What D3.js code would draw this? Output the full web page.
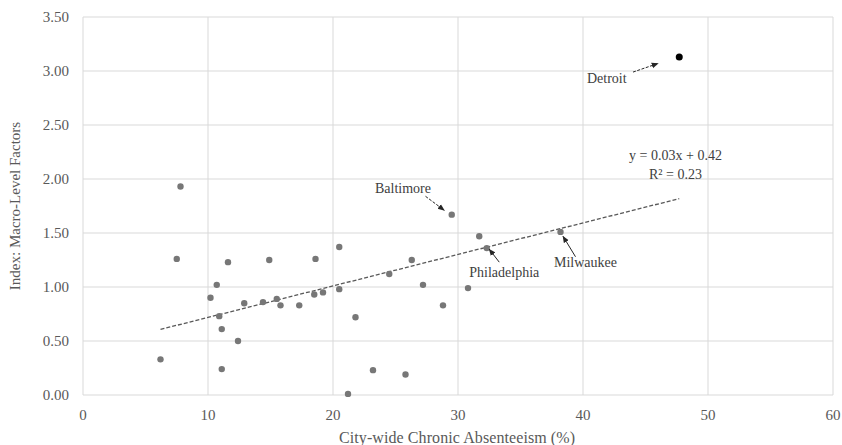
<!DOCTYPE html>
<html>
<head>
<meta charset="utf-8">
<script src="https://cdn.jsdelivr.net/npm/d3@7"></script>
<style>
  body { margin: 0; background: #fff; }
  text { font-family: "Liberation Serif", "Times New Roman", serif; }
</style>
</head>
<body>
<script>
// data
var absenteeism = [6.2, 7.5, 7.8, 10.2, 10.7, 10.9, 11.1, 11.1, 11.6, 12.4, 12.9, 14.4,
  14.9, 15.5, 15.8, 17.3, 18.5, 18.6, 19.2, 20.5, 20.5, 21.2, 21.8, 23.2, 24.5, 25.8,
  26.3, 27.2, 28.8, 29.5, 30.8, 31.7, 32.3, 38.2, 47.7];
var macroIndex = [0.33, 1.26, 1.93, 0.90, 1.02, 0.73, 0.61, 0.24, 1.23, 0.50, 0.85, 0.86,
  1.25, 0.89, 0.83, 0.83, 0.93, 1.26, 0.95, 1.37, 0.98, 0.01, 0.72, 0.23, 1.12, 0.19,
  1.25, 1.02, 0.83, 1.67, 0.99, 1.47, 1.36, 1.51, 3.13];
var xTicks = [0, 10, 20, 30, 40, 50, 60];
var yTicks = [0, 0.5, 1, 1.5, 2, 2.5, 3, 3.5];

// labelled cities: where the label sits and where its arrow runs (data units)
var cities = ["Baltimore", "Philadelphia", "Milwaukee", "Detroit"];
var labelX = [25.6, 33.7, 40.2, 41.9];
var labelY = [1.92, 1.14, 1.23, 2.93];
var arrowFrom = [[27.4, 1.84], [33.3, 1.23], [39.4, 1.28], [44.0, 2.99]];
var arrowTo = [[28.9, 1.71], [32.5, 1.35], [38.4, 1.47], [46.0, 3.07]];

var data = absenteeism.map(function(d, i) { return {x: d, y: macroIndex[i]}; });

var margin = {top: 17, right: 9, bottom: 50, left: 83},
    width = 842 - margin.left - margin.right,
    height = 445 - margin.top - margin.bottom;

var x = d3.scaleLinear().domain([0, 60]).range([0, width]);
var y = d3.scaleLinear().domain([0, 3.5]).range([height, 0]);

var svg = d3.select("body").append("svg")
    .attr("width", 842)
    .attr("height", 445);

svg.append("defs").append("marker")
    .attr("id", "head")
    .attr("viewBox", "0 0 10 10")
    .attr("refX", 9).attr("refY", 5)
    .attr("markerWidth", 7).attr("markerHeight", 7)
    .attr("orient", "auto")
  .append("path")
    .attr("d", "M0,1L10,5L0,9Z")
    .attr("fill", "#262626");

var g = svg.append("g")
    .attr("transform", "translate(" + margin.left + "," + margin.top + ")");

// gridlines
g.selectAll(".vgrid")
    .data(xTicks)
  .enter().append("line")
    .attr("x1", function(d) { return x(d); })
    .attr("x2", function(d) { return x(d); })
    .attr("y1", 0).attr("y2", height)
    .attr("stroke", "#d9d9d9");

g.selectAll(".hgrid")
    .data(yTicks)
  .enter().append("line")
    .attr("y1", function(d) { return y(d); })
    .attr("y2", function(d) { return y(d); })
    .attr("x1", 0).attr("x2", width)
    .attr("stroke", "#d9d9d9");

// tick labels
g.selectAll(".xlab")
    .data(xTicks)
  .enter().append("text")
    .attr("x", function(d) { return x(d); })
    .attr("y", height + 25)
    .attr("text-anchor", "middle")
    .attr("fill", "#595959")
    .style("font-size", "15px")
    .text(function(d) { return d; });

g.selectAll(".ylab")
    .data(yTicks)
  .enter().append("text")
    .attr("x", -14)
    .attr("y", function(d) { return y(d); })
    .attr("dy", "0.35em")
    .attr("text-anchor", "end")
    .attr("fill", "#595959")
    .style("font-size", "15px")
    .text(function(d) { return d.toFixed(2); });

// axis titles
svg.append("text")
    .attr("x", 457)
    .attr("y", 443)
    .attr("text-anchor", "middle")
    .attr("fill", "#595959")
    .attr("textLength", 236)
    .attr("lengthAdjust", "spacing")
    .style("font-size", "16px")
    .text("City-wide Chronic Absenteeism (%)");

svg.append("text")
    .attr("transform", "translate(20," + (margin.top + height / 2) + ") rotate(-90)")
    .attr("text-anchor", "middle")
    .attr("fill", "#595959")
    .style("font-size", "15px")
    .text("Index: Macro-Level Factors");

// linear trendline from least squares
var mx = d3.mean(data, function(d) { return d.x; }),
    my = d3.mean(data, function(d) { return d.y; });
var slope = d3.sum(data, function(d) { return (d.x - mx) * (d.y - my); }) /
            d3.sum(data, function(d) { return (d.x - mx) * (d.x - mx); });
var intercept = my - slope * mx;
var ext = d3.extent(data, function(d) { return d.x; });

g.append("line")
    .attr("x1", x(ext[0])).attr("y1", y(intercept + slope * ext[0]))
    .attr("x2", x(ext[1])).attr("y2", y(intercept + slope * ext[1]))
    .attr("stroke", "#595959")
    .attr("stroke-width", 1.3)
    .attr("stroke-dasharray", "4,2");

g.append("text")
    .attr("x", x(47.4)).attr("y", y(2.18))
    .attr("text-anchor", "middle")
    .attr("fill", "#404040")
    .style("font-size", "14px")
    .text("y = 0.03x + 0.42");

g.append("text")
    .attr("x", x(47.4)).attr("y", y(2.0))
    .attr("text-anchor", "middle")
    .attr("fill", "#404040")
    .style("font-size", "14px")
    .text("R² = 0.23");

// points
g.selectAll(".dot")
    .data(data)
  .enter().append("circle")
    .attr("r", function(d, i) { return i === 34 ? 3.5 : 3.2; })
    .attr("cx", function(d) { return x(d.x); })
    .attr("cy", function(d) { return y(d.y); })
    .attr("fill", function(d, i) { return i === 34 ? "#000" : "#777"; });

// city labels and arrows
cities.forEach(function(c, i) {
  g.append("line")
      .attr("x1", x(arrowFrom[i][0])).attr("y1", y(arrowFrom[i][1]))
      .attr("x2", x(arrowTo[i][0])).attr("y2", y(arrowTo[i][1]))
      .attr("stroke", "#262626")
      .attr("stroke-width", 1)
      .attr("stroke-dasharray", i === 0 || i === 3 ? "3,1.5" : null)
      .attr("marker-end", "url(#head)");
  g.append("text")
      .attr("x", x(labelX[i])).attr("y", y(labelY[i]))
      .attr("dy", "0.35em")
      .attr("text-anchor", "middle")
      .attr("fill", "#404040")
      .style("font-size", "14px")
      .text(c);
});
</script>
</body>
</html>
